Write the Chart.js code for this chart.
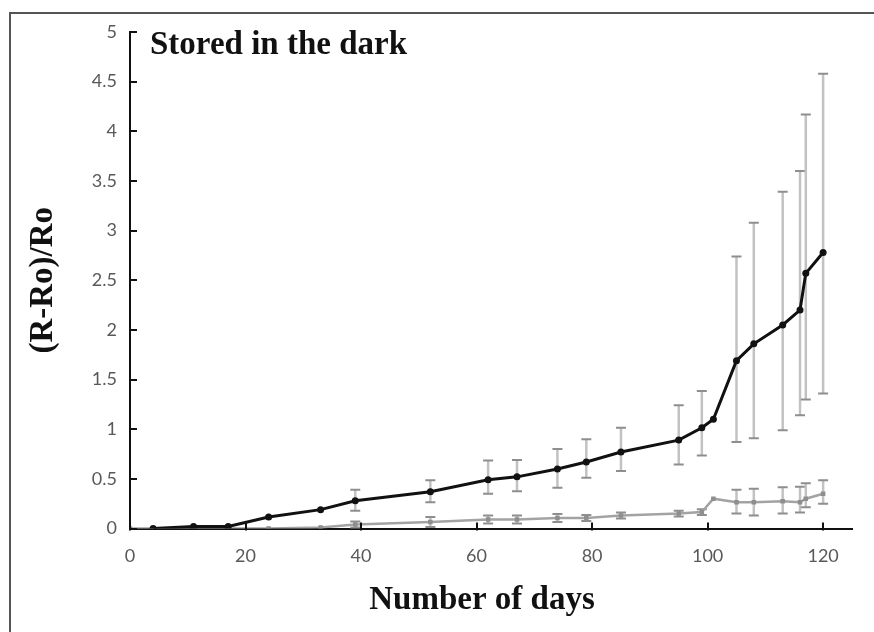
<!DOCTYPE html>
<html><head><meta charset="utf-8">
<script src="https://cdn.jsdelivr.net/npm/chart.js@4.4.1/dist/chart.umd.min.js"></script>
<style>
html,body{margin:0;padding:0;background:#fff;}
#wrap{position:relative;width:874px;height:632px;overflow:hidden;}
#frame{position:absolute;left:9px;top:12px;right:-5px;bottom:-5px;border-top:2px solid #555;border-left:2px solid #555;pointer-events:none;}
canvas{display:block;}
</style></head><body>
<div id="wrap"><canvas id="c" width="874" height="632"></canvas><div id="frame"></div></div>
<script>
// Series 1 (black)
const days1  = [4, 11, 17, 24, 33, 39, 52, 62, 67, 74, 79, 85, 95, 99, 101, 105, 108, 113, 116, 117, 120];
const vals1  = [0, 0.02, 0.02, 0.115, 0.19, 0.28, 0.37, 0.49, 0.52, 0.60, 0.67, 0.77, 0.89, 1.015, 1.10, 1.69, 1.86, 2.05, 2.20, 2.57, 2.78];
const err1Up = [0, 0, 0, 0, 0, 0.11, 0.115, 0.195, 0.17, 0.20, 0.23, 0.245, 0.35, 0.37, 0, 1.05, 1.22, 1.34, 1.40, 1.60, 1.80];
const err1Dn = [0, 0, 0, 0, 0, 0.10, 0.105, 0.14, 0.145, 0.19, 0.16, 0.19, 0.245, 0.28, 0, 0.82, 0.95, 1.06, 1.06, 1.27, 1.42];
// Series 2 (grey)
const days2  = [0, 4, 11, 17, 24, 33, 39, 52, 62, 67, 74, 79, 85, 95, 99, 101, 105, 108, 113, 116, 117, 120];
const vals2  = [0, 0, 0, 0, 0, 0.01, 0.04, 0.065, 0.09, 0.09, 0.105, 0.105, 0.13, 0.15, 0.165, 0.30, 0.265, 0.265, 0.275, 0.265, 0.30, 0.35];
const err2Up = [0, 0, 0, 0, 0, 0, 0.03, 0.05, 0.04, 0.04, 0.04, 0.03, 0.03, 0.03, 0.03, 0, 0.125, 0.135, 0.14, 0.155, 0.155, 0.135];
const err2Dn = [0, 0, 0, 0, 0, 0, 0.03, 0.05, 0.04, 0.04, 0.04, 0.03, 0.03, 0.03, 0.03, 0, 0.115, 0.135, 0.125, 0.105, 0.085, 0.10];
// Axes
const xTickValues = [0, 20, 40, 60, 80, 100, 120];
const xMin = 0, xMax = 125, yMin = 0, yMax = 5, yStep = 0.5;
const chartTitle = "Stored in the dark";
const xTitle = "Number of days";
const yTitle = "(R-Ro)/Ro";

const errorBars = {
  id: 'errorBars',
  beforeDatasetsDraw(chart) {
    const {ctx, scales: {x, y}} = chart;
    const sets = [
      {d: days2, v: vals2, up: err2Up, dn: err2Dn},
      {d: days1, v: vals1, up: err1Up, dn: err1Dn}
    ];
    ctx.save();
    sets.forEach(s => {
      s.d.forEach((day, i) => {
        const u = s.up[i], dn = s.dn[i];
        if (!u && !dn) return;
        const px = x.getPixelForValue(day);
        const top = y.getPixelForValue(s.v[i] + u);
        const bot = y.getPixelForValue(s.v[i] - dn);
        ctx.strokeStyle = '#c2c2c2';
        ctx.lineWidth = 2.5;
        ctx.beginPath(); ctx.moveTo(px, top); ctx.lineTo(px, bot); ctx.stroke();
        ctx.strokeStyle = '#8e8e8e';
        ctx.lineWidth = 2;
        ctx.beginPath();
        ctx.moveTo(px - 5, top); ctx.lineTo(px + 5, top);
        ctx.moveTo(px - 5, bot); ctx.lineTo(px + 5, bot);
        ctx.stroke();
      });
    });
    ctx.restore();
  }
};

const decor = {
  id: 'decor',
  afterDraw(chart) {
    const {ctx, chartArea: a, scales: {x, y}} = chart;
    ctx.save();
    ctx.strokeStyle = '#111';
    ctx.lineWidth = 2;
    ctx.beginPath();
    y.ticks.forEach(t => {
      const py = Math.round(y.getPixelForValue(t.value));
      ctx.moveTo(a.left, py); ctx.lineTo(a.left + 7, py);
    });
    x.ticks.forEach(t => {
      const px = Math.round(x.getPixelForValue(t.value));
      ctx.moveTo(px, a.bottom + 2); ctx.lineTo(px, a.bottom - 6);
    });
    ctx.stroke();
    ctx.fillStyle = '#111';
    ctx.font = 'bold 33px "Liberation Serif"';
    ctx.textAlign = 'left';
    ctx.textBaseline = 'alphabetic';
    ctx.fillText(chartTitle, a.left + 20, a.top + 22);
    ctx.textAlign = 'center';
    ctx.textBaseline = 'middle';
    ctx.fillText(xTitle, a.left + 352, 600);
    ctx.restore();
  }
};

new Chart(document.getElementById('c'), {
  type: 'line',
  data: {
    datasets: [
      {
        data: days1.map((d, i) => ({x: d, y: vals1[i]})),
        borderColor: '#111', backgroundColor: '#111', borderWidth: 3,
        pointStyle: 'circle', pointRadius: 3.5, pointBorderWidth: 0,
        tension: 0, order: 1
      },
      {
        data: days2.map((d, i) => ({x: d, y: vals2[i]})),
        borderColor: '#a3a3a3', backgroundColor: '#8e8e8e', borderWidth: 2.5,
        pointStyle: 'rect', pointRadius: 3.2, pointBorderWidth: 0,
        tension: 0, order: 2
      }
    ]
  },
  options: {
    responsive: false,
    animation: false,
    layout: {padding: {top: 32, right: 22, bottom: 0, left: 0}},
    plugins: {legend: {display: false}, tooltip: {enabled: false}},
    scales: {
      x: {
        type: 'linear', min: xMin, max: xMax,
        afterBuildTicks: s => { s.ticks = xTickValues.map(v => ({value: v})); },
        afterFit: s => { s.height = 103.5; },
        grid: {display: false, drawTicks: false},
        border: {display: true, color: '#111', width: 2},
        ticks: {color: '#595959', font: {family: 'Lato', size: 18}, padding: 17, maxRotation: 0}
      },
      y: {
        type: 'linear', min: yMin, max: yMax,
        afterFit: s => { s.width = 130; },
        grid: {display: false, drawTicks: false},
        border: {display: true, color: '#111', width: 2},
        ticks: {stepSize: yStep, color: '#595959', font: {family: 'Lato', size: 18}, padding: 13,
                callback: v => String(Math.round(v * 10) / 10)},
        title: {display: true, text: yTitle, color: '#111',
                font: {family: 'Liberation Serif', size: 33, weight: 'bold', lineHeight: 1.2},
                padding: {top: 24, bottom: 0}}
      }
    }
  },
  plugins: [errorBars, decor]
});
</script>
</body></html>
